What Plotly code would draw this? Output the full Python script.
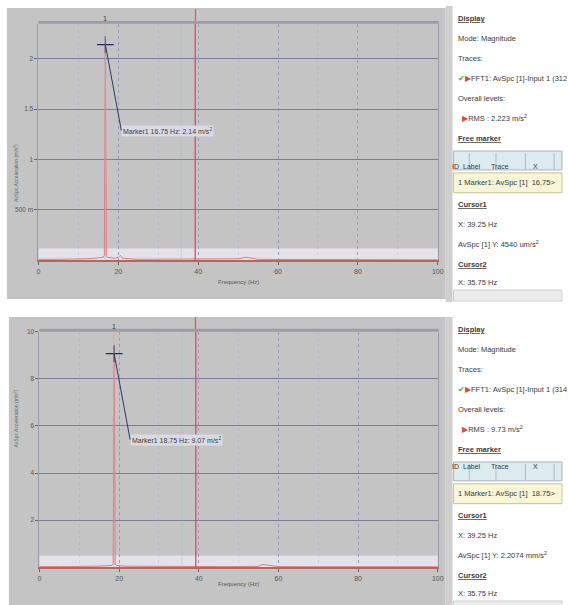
import plotly.graph_objects as go

W, H = 568, 605

# ---- spectrum data (frequency in Hz, magnitude in m/s²) ----
top_freq = [0, 2, 5, 8, 10, 12, 14, 16.25, 16.5, 16.75, 17.0, 17.25, 19, 20, 20.5, 21, 25, 30, 35, 40, 45, 50, 52, 55, 60, 70, 80, 90, 100]
top_amp = [0.01, 0.008, 0.01, 0.012, 0.01, 0.015, 0.02, 0.03, 0.05, 2.14, 0.05, 0.03, 0.02, 0.03, 0.05, 0.02, 0.01, 0.01, 0.008, 0.01, 0.008, 0.015, 0.03, 0.01, 0.008, 0.006, 0.006, 0.005, 0.005]

bot_freq = [0, 2, 5, 8, 10, 12, 15, 18.25, 18.5, 18.75, 19.0, 19.25, 21, 25, 30, 35, 40, 45, 50, 55, 56, 60, 70, 80, 90, 100]
bot_amp = [0.03, 0.02, 0.03, 0.03, 0.03, 0.04, 0.05, 0.08, 0.15, 9.07, 0.15, 0.08, 0.05, 0.04, 0.03, 0.03, 0.03, 0.03, 0.03, 0.04, 0.12, 0.03, 0.02, 0.02, 0.02, 0.02]

# marker / cursor positions (Hz)
top_marker = (16.75, 2.14)
bot_marker = (18.75, 9.07)
cursor1 = 39.25
cursor2 = 35.75

x_ticks = [0, 20, 40, 60, 80, 100]
top_y_ticks = [0.5, 1, 1.5, 2]
top_y_text = ["500 m", "1", "1.5", "2"]
bot_y_ticks = [2, 4, 6, 8, 10]
bot_y_text = ["2", "4", "6", "8", "10"]

table_head = ["ID", "Label", "Trace", "X"]

# ---- side-panel text ----
top_side = {
    "mode": "Mode: Magnitude",
    "trace": "FFT1: AvSpc [1]-Input 1 (312",
    "rms": "RMS : 2.223 m/s<sup>2</sup>",
    "row": "1 Marker1: AvSpc [1]  16.75>",
    "c1x": "X: 39.25 Hz",
    "c1y": "AvSpc [1] Y: 4540 um/s<sup>2</sup>",
    "c2x": "X: 35.75 Hz",
}
bot_side = {
    "mode": "Mode: Magnitude",
    "trace": "FFT1: AvSpc [1]-Input 1 (314",
    "rms": "RMS : 9.73 m/s<sup>2</sup>",
    "row": "1 Marker1: AvSpc [1]  18.75>",
    "c1x": "X: 39.25 Hz",
    "c1y": "AvSpc [1] Y: 2.2074 mm/s<sup>2</sup>",
    "c2x": "X: 35.75 Hz",
}

FONT = "Liberation Sans"
TXT = "#3a3a3a"
FRAME = "#c4c4c4"
PLOTBG = "#e5e5fb"
TRACE = "#dc7c86"
GRID = "#7d7d96"


def px_x(p):
    return p / W


def px_y(p):
    return 1 - p / H


fig = go.Figure()

panels = [
    dict(xa="x", ya="y", xn="xaxis", yn="yaxis", top=20, bottom=258, left=37, right=442,
         fx=top_freq, fy=top_amp, mk=top_marker, yr=[0, 2.345], yt=top_y_ticks, ytt=top_y_text,
         frame=(5, 4, 450, 297), side=top_side, s0=0),
    dict(xa="x2", ya="y2", xn="xaxis2", yn="yaxis2", top=330, bottom=567, left=38, right=442,
         fx=bot_freq, fy=bot_amp, mk=bot_marker, yr=[0, 10], yt=bot_y_ticks, ytt=bot_y_text,
         frame=(7, 315, 450, 605), side=bot_side, s0=313),
]

shapes = []
annotations = []

for p in panels:
    # grey window frame behind each plot
    fx0, fy0, fx1, fy1 = p["frame"]
    shapes.append(dict(type="rect", xref="paper", yref="paper", layer="below",
                       x0=px_x(fx0), x1=px_x(fx1), y0=px_y(fy1), y1=px_y(fy0),
                       fillcolor=FRAME, line=dict(width=0)))
    # darker strip along the top edge of the plot area
    shapes.append(dict(type="rect", xref="paper", yref="paper", layer="below",
                       x0=px_x(p["left"]), x1=px_x(p["right"] + 1),
                       y0=px_y(p["top"]), y1=px_y(p["top"] - 3),
                       fillcolor="#9c9ca6", line=dict(width=0)))

    xd = f"{p['xa']} domain"
    yd = f"{p['ya']} domain"
    # pale band just above the baseline
    shapes.append(dict(type="rect", xref=xd, yref=yd, layer="below", x0=0, x1=1, y0=0, y1=0.05,
                       fillcolor="rgba(244,238,250,0.7)", line=dict(width=0)))
    # peak marker frequency line
    shapes.append(dict(type="line", xref=p["xa"], yref=yd, x0=p["mk"][0], x1=p["mk"][0], y0=0, y1=1,
                       line=dict(color="rgba(230,160,170,0.55)", width=1)))
    # cursor 2 (cyan) and cursor 1 (red)
    shapes.append(dict(type="line", xref=p["xa"], yref=yd, x0=cursor2, x1=cursor2, y0=0, y1=1,
                       line=dict(color="rgba(120,200,200,0.35)", width=1)))
    shapes.append(dict(type="line", xref=p["xa"], yref=yd, x0=cursor1, x1=cursor1, y0=0, y1=1,
                       line=dict(color="#e2404a", width=1.2)))

    # spectrum trace
    fig.add_trace(go.Scatter(x=p["fx"], y=p["fy"], mode="lines", xaxis=p["xa"], yaxis=p["ya"],
                             line=dict(color=TRACE, width=1), showlegend=False, hoverinfo="skip"))
    # peak marker cross
    fig.add_trace(go.Scatter(x=[p["mk"][0]], y=[p["mk"][1]], mode="markers", xaxis=p["xa"], yaxis=p["ya"],
                             marker=dict(symbol="cross-thin", size=12, line=dict(color="#1f2d5a", width=1.2)),
                             showlegend=False, hoverinfo="skip", cliponaxis=False))

    # marker label with leader line
    annotations.append(dict(x=p["mk"][0], y=p["mk"][1], xref=p["xa"], yref=p["ya"],
                            text=f"Marker1 {p['mk'][0]:.2f} Hz: {p['mk'][1]:.2f} m/s<sup>2</sup>",
                            showarrow=True, arrowhead=0, arrowwidth=1, arrowcolor="#2c3a66",
                            ax=16, ay=86, xanchor="left", yanchor="middle",
                            bgcolor="#dadae4", borderpad=1,
                            font=dict(family=FONT, size=7, color=TXT)))
    # marker id and cursor top in the grey strip above the plot
    annotations.append(dict(x=p["mk"][0], y=1.045, xref=p["xa"], yref=yd, text="1", showarrow=False,
                            font=dict(family=FONT, size=7, color=TXT)))
    annotations.append(dict(x=cursor1, y=1.005, xref=p["xa"], yref=yd, text="|", showarrow=False,
                            yanchor="bottom", font=dict(family=FONT, size=12, color="#e2404a")))

    # axis titles
    annotations.append(dict(x=px_x(9), y=(px_y(p["top"]) + px_y(p["bottom"])) / 2, xref="paper", yref="paper",
                            text="AvSpc Acceleration (m/s<sup>2</sup>)", textangle=-90, showarrow=False,
                            font=dict(family=FONT, size=5, color="#666")))
    annotations.append(dict(x=px_x(240), y=px_y(p["bottom"] + 22), xref="paper", yref="paper",
                            text="Frequency (Hz)", showarrow=False,
                            font=dict(family=FONT, size=6, color="#555")))

    # side panel
    s0 = p["s0"]
    sd = p["side"]
    shapes.append(dict(type="rect", xref="paper", yref="paper", layer="below",
                       x0=px_x(450), x1=px_x(457), y0=px_y(s0 + 300), y1=px_y(s0 + 2),
                       fillcolor="#cfcfcf", line=dict(width=0)))
    # marker table
    shapes.append(dict(type="rect", xref="paper", yref="paper", layer="below",
                       x0=px_x(458), x1=px_x(568), y0=px_y(s0 + 167), y1=px_y(s0 + 148),
                       fillcolor="#dcebf0", line=dict(color="#a9b4bc", width=1)))
    shapes.append(dict(type="rect", xref="paper", yref="paper", layer="below",
                       x0=px_x(458), x1=px_x(568), y0=px_y(s0 + 190), y1=px_y(s0 + 170),
                       fillcolor="#f8f6d6", line=dict(color="#c7c29a", width=1)))
    col_edges = [458, 474, 501, 531, 560]
    for sx in col_edges[1:]:
        shapes.append(dict(type="line", xref="paper", yref="paper",
                           x0=px_x(sx), x1=px_x(sx), y0=px_y(s0 + 167), y1=px_y(s0 + 150),
                           line=dict(color="#b0bcc4", width=1)))
    for i, head in enumerate(table_head):
        annotations.append(dict(x=px_x((col_edges[i] + col_edges[i + 1]) / 2), y=px_y(s0 + 158),
                                xref="paper", yref="paper", text=head, showarrow=False,
                                font=dict(family=FONT, size=7, color=TXT)))
    # scrollbar
    shapes.append(dict(type="rect", xref="paper", yref="paper", layer="below",
                       x0=px_x(458), x1=px_x(568), y0=px_y(s0 + 299), y1=px_y(s0 + 288),
                       fillcolor="#ececec", line=dict(color="#d0d0d0", width=1)))

    U = "<span style='text-decoration:underline'><b>{}</b></span>"
    side_rows = [
        (15, U.format("Display")),
        (35, sd["mode"]),
        (55, "Traces:"),
        (75, "<span style='color:#3cb43c'>✔</span><span style='color:#d2503c'>▶</span>" + sd["trace"]),
        (95, "Overall levels:"),
        (115, "  <span style='color:#d2503c'>▶</span>" + sd["rms"]),
        (135, U.format("Free marker")),
        (180, sd["row"]),
        (202, U.format("Cursor1")),
        (222, sd["c1x"]),
        (242, sd["c1y"]),
        (262, U.format("Cursor2")),
        (280, sd["c2x"]),
    ]
    for yy, t in side_rows:
        annotations.append(dict(x=px_x(460), y=px_y(s0 + yy), xref="paper", yref="paper", text=t,
                                showarrow=False, xanchor="left", yanchor="middle",
                                font=dict(family=FONT, size=7.5, color=TXT)))

    fig.update_layout({
        p["xn"]: dict(domain=[px_x(p["left"]), px_x(p["right"])], range=[0, 100], anchor=p["ya"],
                      tickvals=x_ticks, ticks="outside", ticklen=3, tickcolor="#666",
                      tickfont=dict(family=FONT, size=7, color="#555"),
                      showgrid=True, gridcolor="#9a9abb", griddash="dot", gridwidth=1,
                      minor=dict(dtick=10, showgrid=True, gridcolor="rgba(160,160,200,0.3)", gridwidth=1),
                      showline=True, linecolor="#b06a5a", linewidth=2, mirror=False, zeroline=False),
        p["yn"]: dict(domain=[px_y(p["bottom"]), px_y(p["top"])], range=p["yr"], anchor=p["xa"],
                      tickvals=p["yt"], ticktext=p["ytt"], ticks="outside", ticklen=3, tickcolor="#666",
                      tickfont=dict(family=FONT, size=6.5, color="#555"),
                      showgrid=True, gridcolor=GRID, gridwidth=1,
                      showline=True, linecolor="#9a9aa4", linewidth=1, mirror=True, zeroline=False),
    })

fig.update_layout(
    width=W, height=H, margin=dict(l=0, r=0, t=0, b=0),
    paper_bgcolor="white", plot_bgcolor=PLOTBG,
    shapes=shapes, annotations=annotations, showlegend=False,
)

fig.write_html("out.html")
